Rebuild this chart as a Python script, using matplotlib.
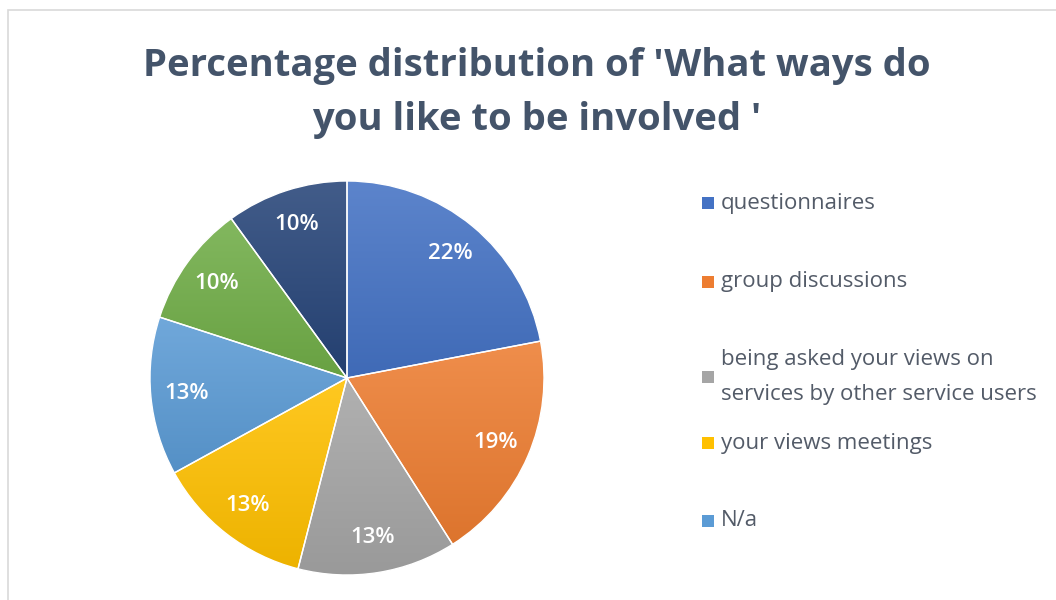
import numpy as np
import matplotlib
matplotlib.use("Agg")
import matplotlib.pyplot as plt
from matplotlib.patches import Rectangle, Wedge
from matplotlib.colors import to_rgb

plt.rcParams['font.family'] = ['Open Sans', 'DejaVu Sans']

# data
labels = ['questionnaires', 'group discussions',
          'being asked your views on\nservices by other service users',
          'your views meetings', 'N/a', 'other', 'other 2']
shares = [22, 19, 13, 13, 13, 10, 10]
colors = ['#4472C4', '#ED7D31', '#A5A5A5', '#FFC000', '#5B9BD5', '#70AD47', '#264478']
legend_shown = 5  # the reference legend is cut off after N/a

title = "Percentage distribution of 'What ways do\nyou like to be involved '"
title_color = '#44546A'
text_color = '#535B68'

W, H = 1056, 600
fig = plt.figure(figsize=(W / 100, H / 100), dpi=100)

# light chart border, runs off the right and bottom edges
fig.patches.append(Rectangle((8 / W, -0.05), 1.2, 1 - 10 / H + 0.05,
                             transform=fig.transFigure, fill=False,
                             edgecolor='#D9D9D9', lw=1.2))

fig.text(537 / W, 1 - 93 / H, title, ha='center', va='center',
         fontsize=27.5, fontweight='bold', color=title_color, linespacing=1.55)

# pie axes: centre at (347, 378) px, radius 197 px
cx, cy, r = 347, 378, 197
half = 205
ax = fig.add_axes([(cx - half) / W, (H - cy - half) / H, 2 * half / W, 2 * half / H])
lim = half / r
ax.set_xlim(-lim, lim)
ax.set_ylim(-lim, lim)
ax.set_aspect('equal')
ax.axis('off')

wedges, texts, autotexts = ax.pie(shares, colors=colors, startangle=90, counterclock=False,
                                  autopct='%1.0f%%', pctdistance=0.82, radius=1,
                                  wedgeprops=dict(edgecolor='white', linewidth=1),
                                  textprops=dict(color='white', fontsize=16,
                                                 fontweight='semibold'))


def mix(c, other, t):
    c = np.array(to_rgb(c))
    o = np.array(to_rgb(other))
    return c * (1 - t) + o * t


# vertical gradient on each slice, lighter at the top
for w, c in zip(wedges, colors):
    th = np.radians(np.linspace(w.theta1, w.theta2, 100))
    xs = np.concatenate([[0], np.cos(th)])
    ys = np.concatenate([[0], np.sin(th)])
    top = mix(c, 'white', 0.13)
    bot = mix(c, 'black', 0.07)
    g = np.linspace(0, 1, 256)[:, None]
    img = top[None, :] * (1 - g[..., None]) + bot[None, :] * g[..., None]
    img = np.repeat(img, 2, axis=1)
    im = ax.imshow(img, extent=(xs.min(), xs.max(), ys.min(), ys.max()),
                   origin='upper', aspect='auto', zorder=1.5, interpolation='bilinear')
    im.set_clip_path(w)

for w in wedges:
    ax.add_patch(Wedge((0, 0), 1, w.theta1, w.theta2, facecolor='none',
                       edgecolor='white', lw=1, zorder=2))
for t in autotexts:
    t.set_zorder(3)
ax.set_xlim(-lim, lim)
ax.set_ylim(-lim, lim)

# legend, drawn by hand to match the clipped Excel legend
legend_y = [203, 282, 377, 443, 521]
for lab, c, y in zip(labels[:legend_shown], colors[:legend_shown], legend_y):
    fig.patches.append(Rectangle((702 / W, 1 - (y + 6) / H), 12 / W, 12 / H,
                                 transform=fig.transFigure, facecolor=c, edgecolor='none'))
    fig.text(721 / W, 1 - y / H, lab, ha='left', va='center', fontsize=16,
             color=text_color, linespacing=1.85)

fig.savefig('out.png', dpi=100)
